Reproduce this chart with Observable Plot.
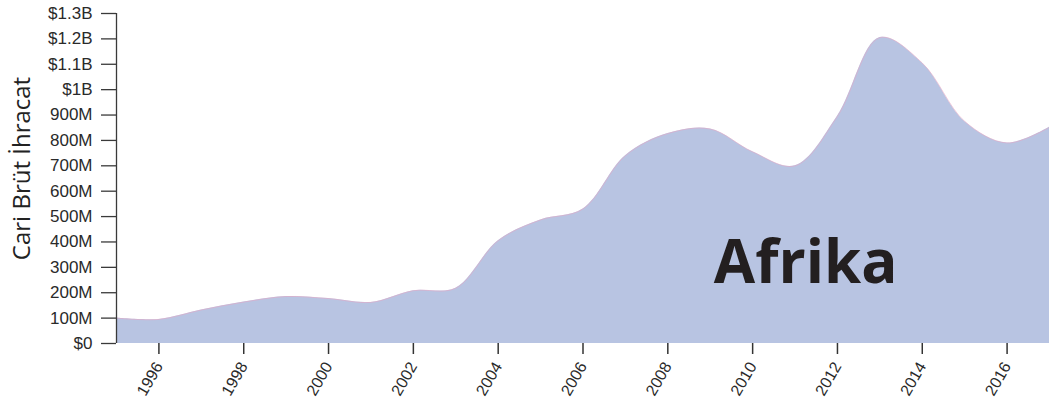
<!DOCTYPE html>
<html><head><meta charset="utf-8">
<script src="https://cdn.jsdelivr.net/npm/d3@7"></script>
<script src="https://cdn.jsdelivr.net/npm/@observablehq/plot@0.6"></script>
<style>body{margin:0;background:#fff;overflow:hidden}</style>
</head><body><div id="chart"></div>
<script>
const years = [1995,1996,1997,1998,1999,2000,2001,2002,2003,2004,2005,2006,2007,2008,2009,2010,2011,2012,2013,2014,2015,2016,2017];
const exportsValues = [100e6,95e6,132e6,163e6,185e6,177e6,162e6,208e6,218e6,405e6,487e6,530e6,740e6,827e6,845e6,755e6,700e6,895e6,1205e6,1105e6,875e6,790e6,852e6];
const yTicks = [0,1e8,2e8,3e8,4e8,5e8,6e8,7e8,8e8,9e8,1e9,1.1e9,1.2e9,1.3e9];
const yTickLabels = ["$0","100M","200M","300M","400M","500M","600M","700M","800M","900M","$1B","$1.1B","$1.2B","$1.3B"];
const xTicks = [1996,1998,2000,2002,2004,2006,2008,2010,2012,2014,2016];
const yAxisTitle = ["Cari Brüt İhracat"];
const seriesName = ["Afrika"];
const seriesNameYear = [2011.25];
const seriesNameValue = [3.15e8];

const data = years.map((y, i) => ({year: y, value: exportsValues[i]}));
const labelData = seriesName.map((n, i) => ({name: n, year: seriesNameYear[i], value: seriesNameValue[i]}));

const chart = Plot.plot({
  width: 1049,
  height: 410,
  marginLeft: 116,
  marginRight: 0,
  marginTop: 13,
  marginBottom: 67,
  style: {fontFamily: "'Liberation Sans', Arial, sans-serif", fontSize: "16px", background: "#fff"},
  x: {domain: [1995, 2017], label: null},
  y: {domain: [0, 1.3e9], label: null},
  marks: [
    Plot.areaY(data, {x: "year", y: "value", fill: "#b8c4e2", curve: "catmull-rom"}),
    Plot.lineY(data, {x: "year", y: "value", stroke: "#e4a8c4", strokeWidth: 0.6, curve: "catmull-rom"}),
    Plot.ruleX([1995], {y1: 0, y2: 1.3e9, stroke: "#3a3a3a", strokeWidth: 1.3}),
    Plot.axisY({ticks: yTicks, tickFormat: (d) => yTickLabels[yTicks.indexOf(d)], tickSize: 15, tickPadding: 9, stroke: "#3a3a3a", strokeWidth: 1.3, fill: "#2a2a2a", label: null, fontSize: 17}),
    Plot.axisX({ticks: xTicks, tickFormat: d => String(d), tickSize: 11, tickPadding: 9, tickRotate: -60, stroke: "#333", strokeWidth: 1.5, fill: "#2a2a2a", label: null, fontSize: 16}),
    Plot.text(yAxisTitle, {text: d => d, frameAnchor: "left", textAnchor: "middle", rotate: -90, dx: -94, dy: -10, fontSize: 24, fill: "#222", fontFamily: "'Open Sans', sans-serif"}),
    Plot.text(labelData, {x: "year", y: "value", text: "name", fontSize: 60, fontWeight: "bold", fill: "#231f20", fontFamily: "'Open Sans', sans-serif"})
  ]
});
document.getElementById("chart").appendChild(chart);
</script>
</body></html>
